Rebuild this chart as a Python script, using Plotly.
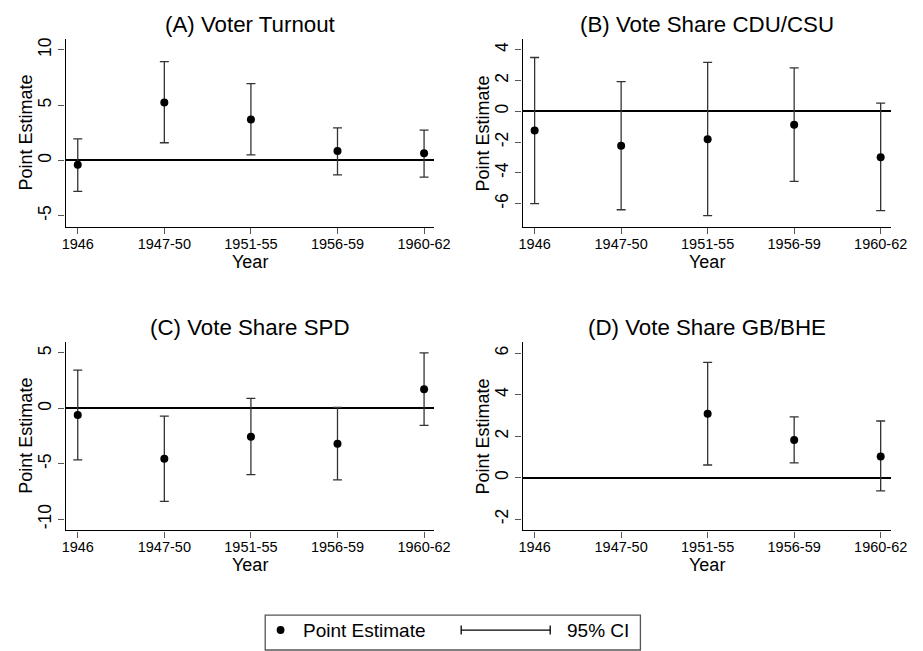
import plotly.graph_objects as go

W, H = 923, 651

categories = ["1946", "1947-50", "1951-55", "1956-59", "1960-62"]

turnout_est = [-0.40, 5.25, 3.70, 0.85, 0.65]
turnout_lo = [-2.80, 1.60, 0.50, -1.30, -1.50]
turnout_hi = [1.95, 8.95, 6.95, 2.95, 2.75]

cdu_est = [-1.25, -2.23, -1.82, -0.88, -2.99]
cdu_lo = [-6.00, -6.40, -6.78, -4.55, -6.45]
cdu_hi = [3.50, 1.93, 3.18, 2.83, 0.54]

spd_est = [-0.60, -4.55, -2.55, -3.20, 1.72]
spd_lo = [-4.64, -8.39, -5.97, -6.44, -1.53]
spd_hi = [3.45, -0.69, 0.90, 0.09, 5.00]

gb_est = [None, None, 3.08, 1.81, 1.02]
gb_lo = [None, None, 0.61, 0.71, -0.64]
gb_hi = [None, None, 5.56, 2.93, 2.73]

titles = ["(A) Voter Turnout", "(B) Vote Share CDU/CSU",
          "(C) Vote Share SPD", "(D) Vote Share GB/BHE"]
y_ranges = [[-6.05, 11.0], [-7.54, 4.71], [-11.0, 5.99], [-2.54, 6.54]]
y_ticks = [[-5, 0, 5, 10], [-6, -4, -2, 0, 2, 4], [-10, -5, 0, 5], [-2, 0, 2, 4, 6]]

panels = [
    (turnout_est, turnout_lo, turnout_hi),
    (cdu_est, cdu_lo, cdu_hi),
    (spd_est, spd_lo, spd_hi),
    (gb_est, gb_lo, gb_hi),
]

# pixel boxes of plot areas: (left, right, top, bottom)
boxes = [
    (63, 440, 37, 226),
    (530, 906.7, 37, 226),
    (63, 440, 341, 530),
    (530, 906.7, 341, 530),
]

FONT = "Liberation Sans, Arial, Helvetica, sans-serif"


def px(x):
    return x / W


def py(y):
    return 1 - y / H


fig = go.Figure()
annotations = []
shapes = []

for i, ((est, lo, hi), box) in enumerate(zip(panels, boxes)):
    n = i + 1
    xa = "x" if n == 1 else f"x{n}"
    ya = "y" if n == 1 else f"y{n}"
    plus = [None if e is None else h - e for e, h in zip(est, hi)]
    minus = [None if e is None else e - l for e, l in zip(est, lo)]
    fig.add_trace(go.Scatter(
        x=categories, y=est, mode="markers",
        marker=dict(color="black", size=8),
        error_y=dict(type="data", symmetric=False, array=plus, arrayminus=minus,
                     color="#333333", thickness=1.3, width=4.5),
        xaxis=xa, yaxis=ya, showlegend=False, hoverinfo="skip",
    ))
    l, r, t, b = box
    xkey = "xaxis" if n == 1 else f"xaxis{n}"
    ykey = "yaxis" if n == 1 else f"yaxis{n}"
    fig.layout[xkey] = dict(
        domain=[px(l), px(r)], anchor=ya, type="category",
        categoryorder="array", categoryarray=categories,
        range=[-0.14, 4.12], showgrid=False, zeroline=False,
        showline=True, linecolor="black", linewidth=1.3,
        ticks="outside", ticklen=6, tickwidth=1.3, tickcolor="#555555",
        tickfont=dict(family=FONT, size=14.5, color="black"),
        ticklabelstandoff=-3,
        fixedrange=True,
    )
    fig.layout[ykey] = dict(
        domain=[py(b), py(t)], anchor=xa, range=y_ranges[i],
        tickvals=y_ticks[i], ticktext=[str(v) for v in y_ticks[i]],
        tickangle=-90, showgrid=False,
        zeroline=True, zerolinecolor="black", zerolinewidth=1.5,
        showline=True, linecolor="black", linewidth=1.3,
        ticks="outside", ticklen=6, tickwidth=1.3, tickcolor="#555555",
        tickfont=dict(family=FONT, size=17.5, color="black"),
        fixedrange=True,
    )
    cx = (l + r) / 2
    annotations.append(dict(
        text=titles[i], x=px(cx), y=py(t - 14), xref="paper", yref="paper",
        xanchor="center", yanchor="middle", showarrow=False,
        font=dict(family=FONT, size=22.3, color="black"),
    ))
    annotations.append(dict(
        text="Year", x=px(cx), y=py(b + 35), xref="paper", yref="paper",
        xanchor="center", yanchor="middle", showarrow=False,
        font=dict(family=FONT, size=18, color="black"),
    ))
    annotations.append(dict(
        text="Point Estimate", x=px(l - 40), y=py((t + b) / 2),
        xref="paper", yref="paper", xanchor="center", yanchor="middle",
        textangle=-90, showarrow=False,
        font=dict(family=FONT, size=18, color="black"),
    ))

# legend (drawn manually)
leg_y = 630
shapes.append(dict(type="rect", xref="paper", yref="paper",
                   x0=px(267), x1=px(650.5), y0=py(650), y1=py(615),
                   line=dict(color="#555555", width=1.3)))
shapes.append(dict(type="circle", xref="paper", yref="paper",
                   x0=px(282.7 - 4), x1=px(282.7 + 4), y0=py(leg_y + 4), y1=py(leg_y - 4),
                   fillcolor="black", line=dict(color="black", width=0)))
shapes.append(dict(type="line", xref="paper", yref="paper",
                   x0=px(467.3), x1=px(558.3), y0=py(leg_y), y1=py(leg_y),
                   line=dict(color="black", width=1.3)))
for xc in (467.3, 558.3):
    shapes.append(dict(type="line", xref="paper", yref="paper",
                       x0=px(xc), x1=px(xc), y0=py(leg_y - 4.5), y1=py(leg_y + 4.5),
                       line=dict(color="black", width=1.3)))
annotations.append(dict(text="Point Estimate", x=px(303.3), y=py(leg_y),
                        xref="paper", yref="paper", xanchor="left", yanchor="middle",
                        showarrow=False, font=dict(family=FONT, size=19, color="black")))
annotations.append(dict(text="95% CI", x=px(573), y=py(leg_y),
                        xref="paper", yref="paper", xanchor="left", yanchor="middle",
                        showarrow=False, font=dict(family=FONT, size=19, color="black")))

fig.update_layout(
    width=W, height=H, margin=dict(l=0, r=0, t=0, b=0),
    paper_bgcolor="white", plot_bgcolor="white",
    annotations=annotations, shapes=shapes, showlegend=False,
    font=dict(family=FONT, color="black"),
)

fig.write_html(
    "out.html",
    config={"displayModeBar": False},
    post_script="document.body.style.margin='0';document.body.style.overflow='hidden';",
)
